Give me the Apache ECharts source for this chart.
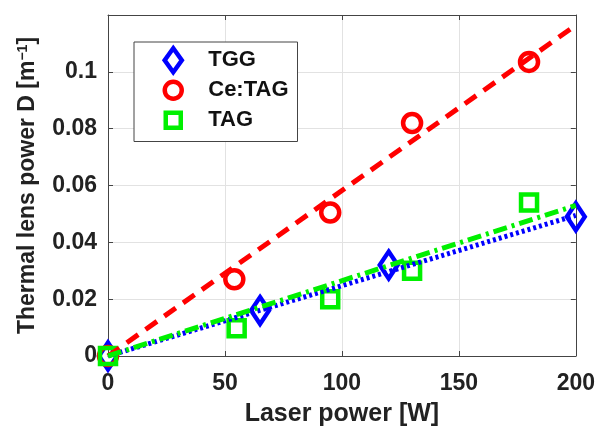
<!DOCTYPE html>
<html><head><meta charset="utf-8">
<script src="https://cdn.jsdelivr.net/npm/echarts@6/dist/echarts.min.js"></script>
<style>html,body{margin:0;padding:0;background:#fff}#c{width:598px;height:432px}</style>
</head><body><div id="c"></div>
<script>
const seriesNames = ['TGG', 'Ce:TAG', 'TAG'];
const tggPower = [0, 65, 120, 200];
const tggD = [0, 0.016, 0.032, 0.049];
const cePower = [0, 54, 95, 130, 180];
const ceD = [0, 0.027, 0.0505, 0.082, 0.1035];
const tagPower = [0, 55, 95, 130, 180];
const tagD = [0, 0.0098, 0.020, 0.030, 0.054];
const fitPower = [0, 200];
const tggFit = [0, 0.0495];
const ceFit = [0, 0.1164];
const tagFit = [0, 0.053];
const xTicks = [0, 50, 100, 150, 200];
const yTicks = [0, 0.02, 0.04, 0.06, 0.08, 0.1];

const zip = (a, b) => a.map((v, i) => [v, b[i]]);
const FONT = 'Liberation Sans, Arial, sans-serif';
const BLUE = '#0000ff', RED = '#ff0000', GREEN = '#00f000';
const AX = '#444';

const chart = echarts.init(document.getElementById('c'));
const mainX = {
  type: 'value', min: 0, max: 200, interval: 50,
  name: 'Laser power [W]', nameLocation: 'middle', nameGap: 46,
  nameTextStyle: { fontFamily: FONT, fontWeight: 'bold', fontSize: 25, color: '#222' },
  axisLine: { show: true, onZero: false, lineStyle: { color: AX, width: 1 } },
  axisTick: { show: true, inside: true, length: 5, lineStyle: { color: AX } },
  axisLabel: { fontFamily: FONT, fontWeight: 'bold', fontSize: 23, color: '#222', margin: 16,
    formatter: v => xTicks.includes(v) ? String(v) : '' },
  splitLine: { show: true, lineStyle: { color: '#e2e2e2', width: 1 } }
};
const mainY = {
  type: 'value', min: 0, max: 0.12, interval: 0.02,
  name: 'Thermal lens power D [m{sup|−1}]', nameLocation: 'middle', nameGap: 68, nameRotate: 90,
  nameTextStyle: { fontFamily: FONT, fontWeight: 'bold', fontSize: 23, color: '#222',
    rich: { sup: { fontFamily: FONT, fontWeight: 'bold', fontSize: 14, color: '#222', verticalAlign: 'top', padding: [0,0,10,0] } } },
  axisLine: { show: true, onZero: false, lineStyle: { color: AX, width: 1 } },
  axisTick: { show: true, inside: true, length: 5, lineStyle: { color: AX } },
  axisLabel: { fontFamily: FONT, fontWeight: 'bold', fontSize: 23, color: '#222', margin: 11,
    formatter: v => { const r = +v.toFixed(2); return yTicks.includes(r) ? String(r) : ''; } },
  splitLine: { show: true, lineStyle: { color: '#e2e2e2', width: 1 } }
};
const markerStyle = (c) => ({ color: '#ffffff00', borderColor: c, borderWidth: 4.5, opacity: 1 });
const option = {
  backgroundColor: '#fff',
  animation: false,
  grid: { left: 108, top: 15, right: 19, bottom: 75, containLabel: false },
  xAxis: [mainX, {
    type: 'value', min: 0, max: 200, interval: 50, position: 'top',
    axisLine: { show: true, onZero: false, lineStyle: { color: AX, width: 1 } },
    axisTick: { show: true, inside: true, length: 5, lineStyle: { color: AX } },
    axisLabel: { show: false }, splitLine: { show: false }
  }],
  yAxis: [mainY, {
    type: 'value', min: 0, max: 0.12, interval: 0.02, position: 'right',
    axisLine: { show: true, onZero: false, lineStyle: { color: AX, width: 1 } },
    axisTick: { show: true, inside: true, length: 5, lineStyle: { color: AX } },
    axisLabel: { show: false }, splitLine: { show: false }
  }],
  legend: {
    orient: 'vertical', left: 134, top: 42,
    padding: [4, 9, 7, 25],
    itemWidth: 60, itemHeight: 24, itemGap: 1.5,
    backgroundColor: '#fff', borderColor: '#444', borderWidth: 1,
    itemStyle: { borderWidth: 4.5 },
    textStyle: { fontFamily: FONT, fontWeight: 'bold', fontSize: 22, color: '#111', lineHeight: 24 },
    data: [
      { name: seriesNames[0], icon: 'path://M10,0 L20,14 L10,28 L0,14 Z' },
      { name: seriesNames[1], icon: 'path://M0,0 M24,24 M3.5,12 A8.5,8.5 0 1,1 20.5,12 A8.5,8.5 0 1,1 3.5,12 Z' },
      { name: seriesNames[2], icon: 'path://M0,0 M24,24 M4.5,4.5 L19.5,4.5 L19.5,19.5 L4.5,19.5 Z' }
    ]
  },
  series: [
    { name: seriesNames[0], type: 'scatter', data: zip(tggPower, tggD), symbol: 'diamond', symbolSize: [18, 27],
      itemStyle: markerStyle(BLUE), z: 3 },
    { name: seriesNames[1], type: 'scatter', data: zip(cePower, ceD), symbol: 'circle', symbolSize: 18,
      itemStyle: markerStyle(RED), z: 3 },
    { name: seriesNames[2], type: 'scatter', data: zip(tagPower, tagD), symbol: 'rect', symbolSize: 16,
      itemStyle: markerStyle(GREEN), z: 3 },
    { name: 'TGG fit', type: 'line', data: zip(fitPower, tggFit), showSymbol: false, symbol: 'none',
      lineStyle: { color: BLUE, width: 5, type: [3, 3] }, z: 4 },
    { name: 'Ce:TAG fit', type: 'line', data: zip(fitPower, ceFit), showSymbol: false, symbol: 'none',
      lineStyle: { color: RED, width: 5, type: [14, 9] }, z: 4 },
    { name: 'TAG fit', type: 'line', data: zip(fitPower, tagFit), showSymbol: false, symbol: 'none',
      lineStyle: { color: GREEN, width: 5, type: [14, 5, 3, 5] }, z: 4 }
  ]
};
chart.setOption(option);
</script></body></html>
